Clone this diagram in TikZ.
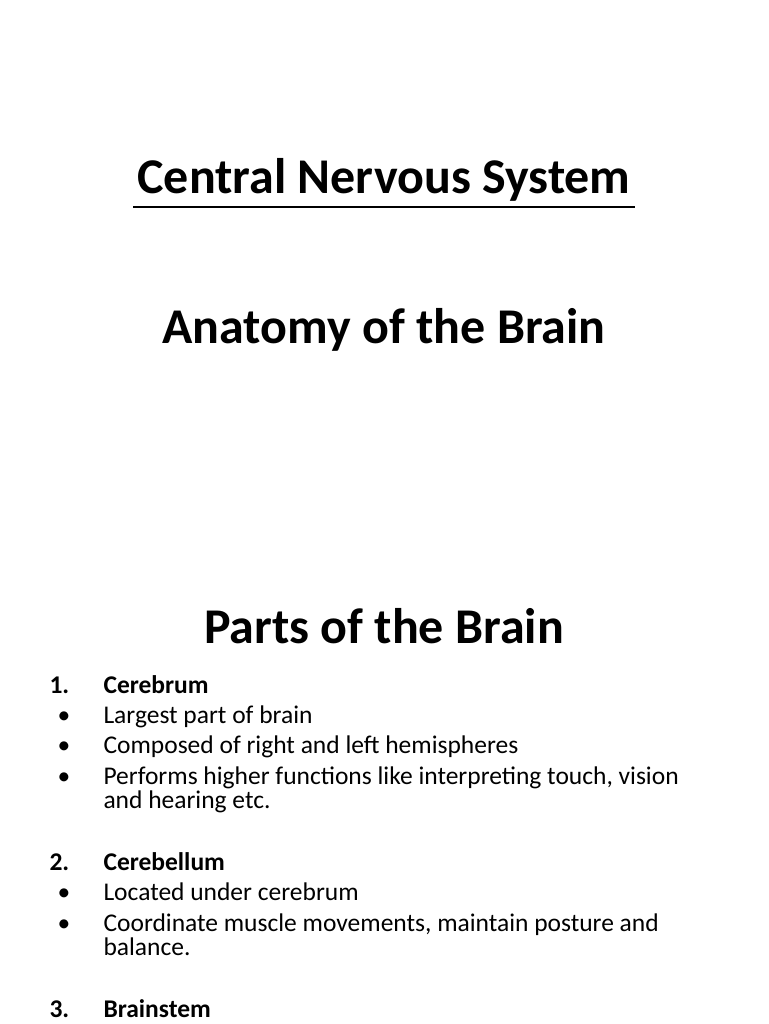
\documentclass[tikz,border=0pt]{standalone}
\usepackage{fontspec}
\setmainfont{Carlito}
\begin{document}
\begin{tikzpicture}[x=1pt,y=1pt,
  title/.style={font=\fontsize{50}{58}\selectfont\bfseries,anchor=mid},
  num/.style={font=\fontsize{25.5}{30}\selectfont\bfseries,anchor=mid west},
  item/.style={font=\fontsize{25.5}{30}\selectfont,anchor=mid west,align=left},
  bul/.style={font=\fontsize{25.5}{30}\selectfont,anchor=mid west}]
\useasboundingbox (0,0) rectangle (768,-1024);
\node[title] (t1) at (384,-191) {Central Nervous System};
\draw[line width=2.5pt] (133,-207) -- (635,-207);
\node[title] (t2) at (384,-341) {Anatomy of the Brain};
\node[title] (t3) at (384,-641) {Parts of the Brain};
\node[num] (n1) at (46,-691) {1.};
\node[num] (h1) at (100,-691) {Cerebrum};
\node[bul] (b1) at (54,-721) {•};
\node[item] (i1) at (100,-721) {Largest part of brain};
\node[bul] (b2) at (54,-751) {•};
\node[item] (i2) at (100,-751) {Composed of right and left hemispheres};
\node[bul] (b3) at (54,-782) {•};
\node[item] (i3) at (100,-782) {Performs higher functions like interpreting touch, vision};
\node[item] (i3b) at (100,-806) {and hearing etc.};
\node[num] (n2) at (46,-868) {2.};
\node[num] (h2) at (100,-868) {Cerebellum};
\node[bul] (b4) at (54,-898) {•};
\node[item] (i4) at (100,-898) {Located under cerebrum};
\node[bul] (b5) at (54,-929) {•};
\node[item] (i5) at (100,-929) {Coordinate muscle movements, maintain posture and};
\node[item] (i5b) at (100,-953) {balance.};
\node[num] (n3) at (46,-1015) {3.};
\node[num] (h3) at (100,-1015) {Brainstem};
\end{tikzpicture}
\end{document}
